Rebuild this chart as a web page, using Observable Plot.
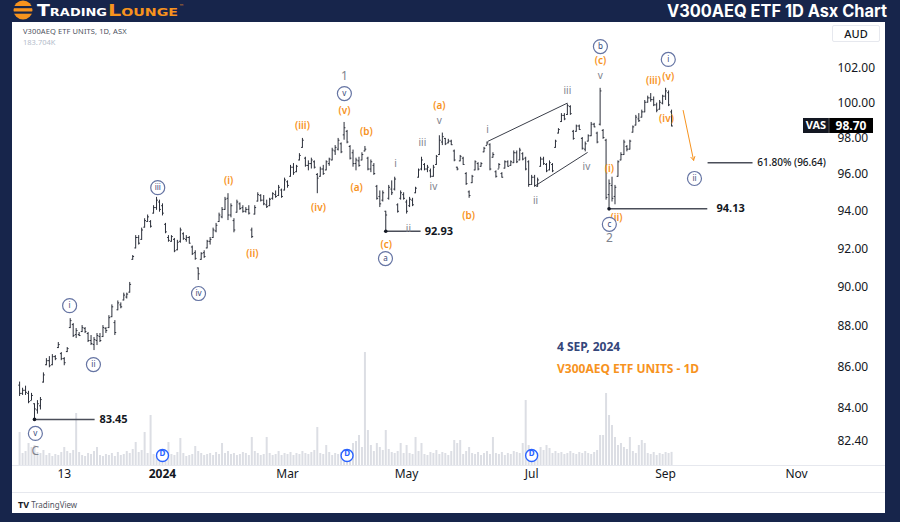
<!DOCTYPE html>
<html><head><meta charset="utf-8">
<script src="https://cdn.jsdelivr.net/npm/d3@7"></script>
<script src="https://cdn.jsdelivr.net/npm/@observablehq/plot@0.6"></script>
<style>
html,body{margin:0;padding:0;}
body{width:900px;height:522px;background:#17254b;position:relative;overflow:hidden;font-family:"Noto Sans",sans-serif;}
#panel{position:absolute;left:12px;top:22px;width:873px;height:491px;background:#fff;overflow:hidden;}
#vol,#price{position:absolute;left:0;top:0;}
.hl{position:absolute;left:0;width:873px;height:1px;background:#e6e8ee;}
#info1{position:absolute;left:11px;top:4px;font-size:7.5px;color:#4e5260;letter-spacing:0.1px;}
#info2{position:absolute;left:11px;top:15px;font-size:7.5px;color:#b4bccb;}
#aud{position:absolute;left:820px;top:3px;width:46px;height:15px;border:1px solid #e6e8ee;border-radius:2px;font-size:11px;color:#131722;text-align:center;line-height:15px;font-weight:500;}
#note1{position:absolute;left:545px;top:316px;font-size:12px;font-weight:bold;color:#34467a;}
#note2{position:absolute;left:545px;top:338px;font-size:12px;font-weight:bold;color:#f7931e;}
#tv{position:absolute;left:6px;top:476px;font-size:8px;color:#50535e;}
</style></head>
<body>
<svg width="900" height="22" style="position:absolute;left:0;top:0">
  <circle cx="23" cy="10" r="9.5" fill="#f7931e"/>
  <rect x="12" y="6" width="22" height="2.2" fill="#17254b"/>
  <rect x="12" y="11.5" width="22" height="2.2" fill="#17254b"/>
  <text x="37" y="16" font-family="DejaVu Sans" font-weight="bold" font-size="16" fill="#ffffff" textLength="70" lengthAdjust="spacingAndGlyphs" style="font-variant:small-caps">Trading</text>
  <text x="108" y="16" font-family="DejaVu Sans" font-weight="bold" font-size="16" fill="#f7931e" textLength="70" lengthAdjust="spacingAndGlyphs" style="font-variant:small-caps">Lounge</text>
  <text x="179" y="8" font-family="DejaVu Sans" font-size="5" fill="#f7931e">™</text>
  <text x="667" y="17" font-family="Inter, Noto Sans" font-weight="bold" font-size="17" fill="#ffffff" textLength="220" lengthAdjust="spacingAndGlyphs">V300AEQ ETF 1D Asx Chart</text>
</svg>
<div id="panel">
  <div id="vol"></div>
  <div id="price"></div>
  <div class="hl" style="top:443px"></div>
  <div class="hl" style="top:470px"></div>
  <div id="info1">V300AEQ ETF UNITS, 1D, ASX</div>
  <div id="info2">183.704K</div>
  <div id="aud">AUD</div>
  <div id="note1">4 SEP, 2024</div>
  <div id="note2">V300AEQ ETF UNITS - 1D</div>
  <div id="tv"><b style="font-size:9px;color:#131722">TV</b> TradingView</div>
</div>
<script>
// ---- data (bar index 0 = 23 Oct 2023, last = 4 Sep 2024) ----
const opens = [
85.10,84.70,84.85,84.70,84.35,84.20,83.90,84.10,85.25,86.10,
86.30,86.10,86.50,86.95,86.65,86.40,86.75,87.95,88.10,87.60,
87.60,87.75,87.90,87.65,87.30,87.10,87.30,87.50,87.50,87.90,
87.95,88.50,88.20,88.85,89.10,89.35,89.50,89.75,91.45,92.05,
92.60,92.50,93.15,93.45,93.45,93.90,94.20,94.50,94.30,93.30,
92.60,92.40,92.50,91.95,92.40,92.80,92.50,92.60,92.10,91.80,
91.00,91.45,91.80,92.05,92.40,92.60,92.95,93.45,93.70,94.10,
94.70,93.80,93.50,93.95,94.40,94.20,94.00,94.10,93.00,93.85,
94.55,94.85,94.60,94.35,94.30,94.70,94.90,94.85,95.15,95.15,
95.60,95.90,96.40,96.15,96.80,97.50,96.90,96.50,96.60,96.70,
96.00,95.90,96.30,96.25,96.60,96.80,97.30,97.40,97.70,98.20,
98.40,97.55,97.20,96.60,96.75,96.80,97.30,96.90,96.30,96.50,
95.35,94.80,94.60,94.00,94.70,95.20,95.20,94.35,94.70,94.90,
94.50,94.30,94.60,95.00,95.85,96.30,96.55,96.30,96.20,95.90,
96.55,97.10,97.80,98.00,97.75,97.85,97.30,96.40,96.75,96.90,
96.05,95.05,95.55,96.25,96.60,96.45,97.25,97.60,97.65,96.95,
96.15,96.30,96.05,96.35,96.70,96.50,96.65,97.20,96.80,97.15,
96.90,96.70,95.45,95.85,95.35,96.45,96.85,96.55,96.25,96.55,
97.50,98.30,98.95,99.30,99.35,99.80,98.40,98.40,98.70,98.00,
97.40,97.85,98.15,98.80,98.30,98.80,98.45,97.90,94.90,95.40,
94.80,95.90,96.80,97.10,97.55,97.40,98.35,98.75,99.10,99.20,
99.50,100.05,100.30,100.20,99.90,99.65,100.00,100.40,100.60,99.50];
const highs = [
85.25,84.95,85.05,84.80,84.70,84.20,84.35,84.50,85.70,86.40,
86.50,86.60,86.55,87.20,86.70,86.45,86.95,88.40,88.15,87.90,
87.70,88.05,87.95,87.70,87.55,87.45,87.65,87.65,88.05,87.95,
88.55,89.10,88.30,89.30,89.20,89.70,89.70,90.25,91.65,92.70,
92.70,93.10,93.60,93.80,93.50,94.30,94.75,94.60,94.40,93.35,
92.70,92.70,92.55,92.45,93.10,92.85,92.70,92.65,92.15,91.90,
91.00,91.80,91.90,92.45,92.60,93.10,93.35,93.90,94.20,94.75,
94.95,94.40,93.60,94.60,94.45,94.30,94.20,94.30,93.10,94.30,
95.00,94.90,94.85,94.60,94.70,95.00,95.10,95.40,95.20,95.80,
95.65,96.50,96.60,96.50,97.15,98.00,96.95,96.75,96.90,96.75,
96.05,96.40,96.50,96.75,96.90,97.45,97.60,98.00,97.75,98.90,
98.45,97.60,97.35,96.90,96.95,97.20,97.55,96.95,96.80,96.60,
95.40,95.10,95.10,94.00,95.40,95.65,95.85,94.40,95.10,95.00,
94.60,94.75,94.70,95.30,96.30,96.95,96.60,96.50,96.30,96.50,
97.05,98.15,98.30,98.00,97.95,97.90,97.35,96.40,97.05,96.95,
96.10,95.10,95.95,96.75,96.65,96.65,97.50,97.80,97.70,97.20,
96.20,96.60,96.10,96.75,96.75,96.75,97.30,97.30,97.45,97.20,
96.95,96.75,95.95,95.95,95.80,96.95,96.95,96.60,96.75,96.60,
97.90,98.55,99.40,99.40,99.95,99.85,98.45,98.75,98.75,98.05,
97.80,98.20,98.90,98.85,98.35,100.85,98.50,97.95,95.70,95.85,
95.40,96.75,97.20,97.90,97.60,97.90,98.70,99.30,99.40,99.60,
100.15,100.40,100.55,100.35,100.00,100.15,100.45,100.85,100.70,99.60];
const lows = [
84.55,84.60,84.60,84.20,84.35,83.45,83.70,83.90,85.20,86.05,
85.95,86.05,86.30,86.90,86.30,86.05,86.70,87.90,87.45,87.40,
87.50,87.70,87.65,87.20,87.05,86.80,87.05,87.20,87.45,87.65,
87.90,88.45,87.55,88.80,88.90,89.30,89.40,89.70,91.40,92.00,
92.20,92.45,93.10,93.40,93.10,93.85,94.05,93.95,93.75,92.80,
92.35,92.35,91.80,91.90,92.30,92.45,92.35,92.25,91.65,91.40,
90.35,91.40,91.50,92.00,92.20,92.55,92.85,93.40,93.60,94.05,
93.50,93.65,92.85,93.90,94.05,93.90,93.90,93.80,92.55,93.80,
94.50,94.50,94.30,94.15,94.25,94.60,94.70,94.80,94.70,95.10,
95.25,95.85,95.95,96.10,96.75,97.45,96.40,96.20,96.30,96.30,
94.95,95.85,95.95,96.20,96.45,96.75,97.05,97.30,97.15,97.90,
97.70,96.80,96.40,96.20,96.40,96.75,97.25,96.20,96.10,95.95,
94.60,94.20,94.50,92.93,94.60,94.85,95.10,93.90,94.60,94.60,
93.85,94.20,94.25,94.95,95.80,96.20,96.20,96.10,95.80,95.85,
96.50,97.05,97.60,97.60,97.70,97.60,96.70,96.20,96.70,96.50,
95.40,94.70,95.50,96.20,96.20,96.40,97.20,97.60,96.20,96.90,
95.80,96.30,95.80,96.30,96.40,96.45,96.60,96.60,96.75,96.75,
96.20,95.30,95.40,95.30,95.30,96.40,96.50,96.10,96.20,96.10,
97.45,98.25,98.90,99.00,99.30,99.30,97.90,98.35,98.45,97.35,
97.25,97.80,98.10,98.60,97.70,98.70,97.95,94.60,94.13,94.50,
94.35,95.85,96.75,97.05,97.25,97.35,98.30,98.70,98.90,99.15,
99.45,100.00,100.05,99.80,99.45,99.60,99.90,100.15,99.80,98.65];
const closes = [
84.70,84.85,84.75,84.30,84.60,83.95,84.20,84.40,85.60,86.30,
86.05,86.50,86.40,87.10,86.40,86.20,86.90,88.30,87.55,87.80,
87.55,87.95,87.75,87.30,87.15,87.35,87.55,87.30,87.95,87.80,
88.45,89.00,87.70,89.20,89.00,89.60,89.65,90.15,91.60,92.60,
92.30,93.00,93.50,93.70,93.20,94.20,94.60,94.10,93.90,92.90,
92.45,92.65,91.90,92.35,93.00,92.55,92.60,92.30,91.75,91.50,
90.70,91.75,91.60,92.40,92.50,93.00,93.25,93.80,94.10,94.65,
93.80,94.30,93.00,94.50,94.15,94.00,94.10,93.90,92.65,94.20,
94.90,94.60,94.40,94.25,94.65,94.95,94.80,95.30,94.80,95.70,
95.40,96.40,96.10,96.45,97.05,97.90,96.50,96.60,96.80,96.40,
95.80,96.30,96.05,96.70,96.85,97.35,97.50,97.90,97.25,98.60,
97.80,96.90,96.60,96.80,96.50,97.10,97.40,96.30,96.70,96.05,
94.70,94.40,95.00,93.80,95.30,95.00,95.75,94.00,95.00,94.70,
94.00,94.65,94.35,95.25,96.25,96.80,96.30,96.40,95.90,96.40,
97.00,97.90,98.10,97.70,97.85,97.65,96.80,96.30,97.00,96.55,
95.50,94.85,95.90,96.70,96.30,96.60,97.45,97.75,96.30,97.10,
95.90,96.55,95.85,96.70,96.45,96.70,97.20,96.70,97.35,96.85,
96.30,95.45,95.85,95.40,95.70,96.85,96.60,96.20,96.65,96.20,
97.85,98.50,99.30,99.10,99.85,99.40,98.00,98.70,98.50,97.45,
97.70,98.15,98.80,98.65,97.80,100.70,98.05,94.75,95.50,94.70,
95.30,96.70,97.10,97.80,97.40,97.85,98.65,99.20,99.00,99.50,
100.05,100.30,100.20,99.90,99.60,100.05,100.40,100.70,99.90,98.70];
// volume, thousands of units
const volumes = [
462,168,196,308,252,280,182,168,210,140,
168,126,154,140,182,252,196,168,210,728,
182,140,126,168,154,196,252,140,126,154,
140,168,126,182,140,154,196,168,224,322,
182,210,462,168,700,154,126,168,112,168,
322,154,140,182,378,168,126,140,154,266,
196,168,140,154,168,140,182,154,308,168,
196,154,168,140,154,182,168,140,392,196,
168,140,154,392,168,140,154,196,140,168,
154,182,140,168,154,196,168,154,182,210,
532,168,154,280,182,140,168,154,182,224,
168,196,308,336,420,252,1582,490,280,196,
308,252,210,490,224,182,168,196,308,168,
280,168,154,392,196,308,154,140,182,168,
210,154,182,168,140,196,350,308,350,154,
196,252,168,154,182,140,168,196,154,392,
168,154,182,140,168,154,196,182,168,308,
910,280,210,182,168,252,210,280,238,168,
196,168,182,154,168,196,168,154,182,168,
196,168,154,182,210,420,420,1008,700,560,
392,280,308,252,224,392,196,168,280,350,
308,168,154,182,140,168,154,182,168,183.7];
const lastClose = 98.70;
const priceTicks = [82.4, 84, 86, 88, 90, 92, 94, 96, 98, 100, 102];
const xTickIdx = [15, 48, 90, 130, 172, 217, 261];
const xTickText = ["13", "2024", "Mar", "May", "Jul", "Sep", "Nov"];
const dividendIdx = [48, 110, 172];
// wave labels: text, bar index, price
const circleText = ["v","i","ii","iii","iv","v","a","b","c","i","ii"];
const circleIdx  = [5.3,16.8,24.8,46.4,60.1,109.1,122.9,195.1,198.1,217.9,226.7];
const circleVal  = [82.78,89.06,86.11,95.28,89.68,100.55,91.49,103.29,93.30,102.53,95.78];
const orangeText = ["(i)","(ii)","(iii)","(iv)","(v)","(a)","(b)","(c)","(a)","(b)","(c)","(i)","(ii)","(iii)","(iv)","(v)"];
const orangeIdx  = [70.2,78.2,95.0,100.4,109.1,113.2,116.5,123.2,141.0,150.8,195.1,198.1,200.5,212.9,217.3,217.9];
const orangeVal  = [95.67,91.75,98.73,94.20,99.58,95.28,98.40,92.23,99.87,93.77,102.47,96.33,93.66,101.30,99.12,101.53];
const grayText = ["i","ii","iii","iv","v","i","ii","iii","iv","v"];
const grayIdx  = [126.3,130.6,135.3,139.0,141.0,157.2,173.3,184.0,190.4,195.1];
const grayVal  = [96.61,93.08,97.77,95.34,99.01,98.51,94.58,100.72,96.44,101.59];
const degreeText = ["C","1","2"];
const degreeIdx  = [5.3,109.1,198.1];
const degreeVal  = [81.94,101.53,92.55];
// horizontal levels
const levelVal   = [83.45, 92.93, 94.13];
const levelFrom  = [5, 123, 198];
const levelTo    = [25.2, 134.7, 231];
const levelTextAt= [26.8, 136.1, 234.1];
const fibVal = 96.64, fibFrom = 231.1, fibTo = 246.2, fibTextAt = 247.8, fibText = "61.80% (96.64)";
// wedge trendlines [i1, v1, i2, v2]
const wedgeUpper = [157.2, 97.83, 184.0, 100.0];
const wedgeLower = [173.3, 95.39, 190.8, 97.22];
// projection arrow [i1, v1, i2, v2]
const arrowPts = [222.9, 99.58, 226.4, 96.78];

// ---- build ----
const X_DOMAIN = [-2.385, 272.39];
const Y_DOMAIN = [81.277, 104.72];
const W = 873, H = 470, MB = 27, MR = 55;
const NAVY = "#34467a", ORANGE = "#f7931e", GRAY = "#80838d", INK = "#131722";

const bars = opens.map((o, i) => ({i, o, h: highs[i], l: lows[i], c: closes[i]}));
const vols = volumes.map((v, i) => ({i, v}));
const xTicks = xTickIdx.map((i, k) => ({i, t: xTickText[k]}));
const circles = circleText.map((t, k) => ({t, i: circleIdx[k], v: circleVal[k]}));
const oranges = orangeText.map((t, k) => ({t, i: orangeIdx[k], v: orangeVal[k]}));
const grays = grayText.map((t, k) => ({t, i: grayIdx[k], v: grayVal[k]}));
const degrees = degreeText.map((t, k) => ({t, i: degreeIdx[k], v: degreeVal[k]}));
const levels = levelVal.map((v, k) => ({v, a: levelFrom[k], b: levelTo[k], at: levelTextAt[k], t: v.toFixed(2)}));
const wedges = [wedgeUpper, wedgeLower].map(w => ({i1: w[0], v1: w[1], i2: w[2], v2: w[3]}));

const volChart = Plot.plot({
  width: W, height: H, marginTop: 0, marginBottom: MB, marginLeft: 0, marginRight: MR,
  x: {domain: X_DOMAIN, axis: null},
  y: {domain: [0, 6202], axis: null},
  style: {background: "transparent"},
  marks: [Plot.ruleX(vols, {x: "i", y1: 0, y2: "v", stroke: "#dcdee4", strokeWidth: 2})]
});
document.getElementById("vol").appendChild(volChart);

const chart = Plot.plot({
  width: W, height: H, marginTop: 0, marginBottom: MB, marginLeft: 0, marginRight: MR,
  x: {domain: X_DOMAIN, axis: null},
  y: {type: "log", domain: Y_DOMAIN, axis: null},
  style: {background: "transparent", fontFamily: "Noto Sans, sans-serif"},
  marks: [
    Plot.axisY(priceTicks, {anchor: "right", tickFormat: d => d.toFixed(2), tickSize: 0, tickPadding: 7, fontSize: 12, color: INK}),
    Plot.text(xTicks.filter(d => d.t !== "2024"), {x: "i", text: "t", frameAnchor: "bottom", dy: 12, fontSize: 12, fill: INK}),
    Plot.text(xTicks.filter(d => d.t === "2024"), {x: "i", text: "t", frameAnchor: "bottom", dy: 12, fontSize: 12, fill: INK, fontWeight: "bold"}),
    Plot.link(wedges, {x1: "i1", y1: "v1", x2: "i2", y2: "v2", stroke: "#3a3e49", strokeWidth: 1}),
    Plot.ruleX(bars, {x: "i", y1: "l", y2: "h", stroke: "#2b2f3a", strokeWidth: 1}),
    Plot.link(bars, {x1: d => d.i - 0.45, x2: "i", y1: "o", y2: "o", stroke: "#2b2f3a", strokeWidth: 1}),
    Plot.link(bars, {x1: "i", x2: d => d.i + 0.45, y1: "c", y2: "c", stroke: "#2b2f3a", strokeWidth: 1}),
    Plot.link(levels, {x1: "a", x2: "b", y1: "v", y2: "v", stroke: "#4a4e59", strokeWidth: 1.5}),
    Plot.dot(levels, {x: "a", y: "v", r: 1.8, fill: INK}),
    Plot.text(levels, {x: "at", y: "v", text: "t", textAnchor: "start", fontSize: 11, fontWeight: "bold", fill: INK}),
    Plot.link([fibVal], {x1: () => fibFrom, x2: () => fibTo, y1: d => d, y2: d => d, stroke: "#4a4e59", strokeWidth: 1.5}),
    Plot.text([fibVal], {x: () => fibTextAt, y: d => d, text: () => fibText, textAnchor: "start", fontSize: 10, fontWeight: 500, fill: INK}),
    Plot.arrow([arrowPts], {x1: d => d[0], y1: d => d[1], x2: d => d[2], y2: d => d[3], stroke: ORANGE, strokeWidth: 1, headLength: 6}),
    Plot.text(grays, {x: "i", y: "v", text: "t", fontSize: 10, fill: GRAY}),
    Plot.text(degrees, {x: "i", y: "v", text: "t", fontSize: 12, fill: GRAY}),
    Plot.text(oranges, {x: "i", y: "v", text: "t", fontSize: 10, fontWeight: 600, fill: ORANGE}),
    Plot.dot(circles, {x: "i", y: "v", r: 7, fill: "white", stroke: "#6574a3", strokeWidth: 1.2}),
    Plot.text(circles, {x: "i", y: "v", text: "t", fontSize: 8, fill: NAVY}),
    Plot.dot(dividendIdx, {x: d => d, frameAnchor: "bottom", dy: -10, r: 6, fill: "white", stroke: "#2962ff", strokeWidth: 1.4}),
    Plot.text(dividendIdx, {x: d => d, frameAnchor: "bottom", dy: -10, text: () => "D", fontSize: 8, fontWeight: "bold", fill: "#2962ff"})
  ]
});
document.getElementById("price").appendChild(chart);

// last price tag on the price scale
const yy = chart.scale("y").apply(lastClose);
const g = d3.select(chart).append("g").attr("font-family", "Noto Sans, sans-serif").attr("font-weight", "bold");
g.append("rect").attr("x", 791).attr("y", yy - 7.5).attr("width", 26).attr("height", 15).attr("fill", "#131722");
g.append("rect").attr("x", 817).attr("y", yy - 7.5).attr("width", 44).attr("height", 15).attr("fill", "#000000");
g.append("line").attr("x1", 817).attr("x2", 817).attr("y1", yy - 7.5).attr("y2", yy + 7.5).attr("stroke", "#555");
g.append("text").attr("x", 804).attr("y", yy).attr("dy", "0.35em").attr("text-anchor", "middle").attr("font-size", 11).attr("fill", "#fff").text("VAS");
g.append("text").attr("x", 839).attr("y", yy).attr("dy", "0.35em").attr("text-anchor", "middle").attr("font-size", 12).attr("fill", "#fff").text(lastClose.toFixed(2));
</script>
</body></html>
